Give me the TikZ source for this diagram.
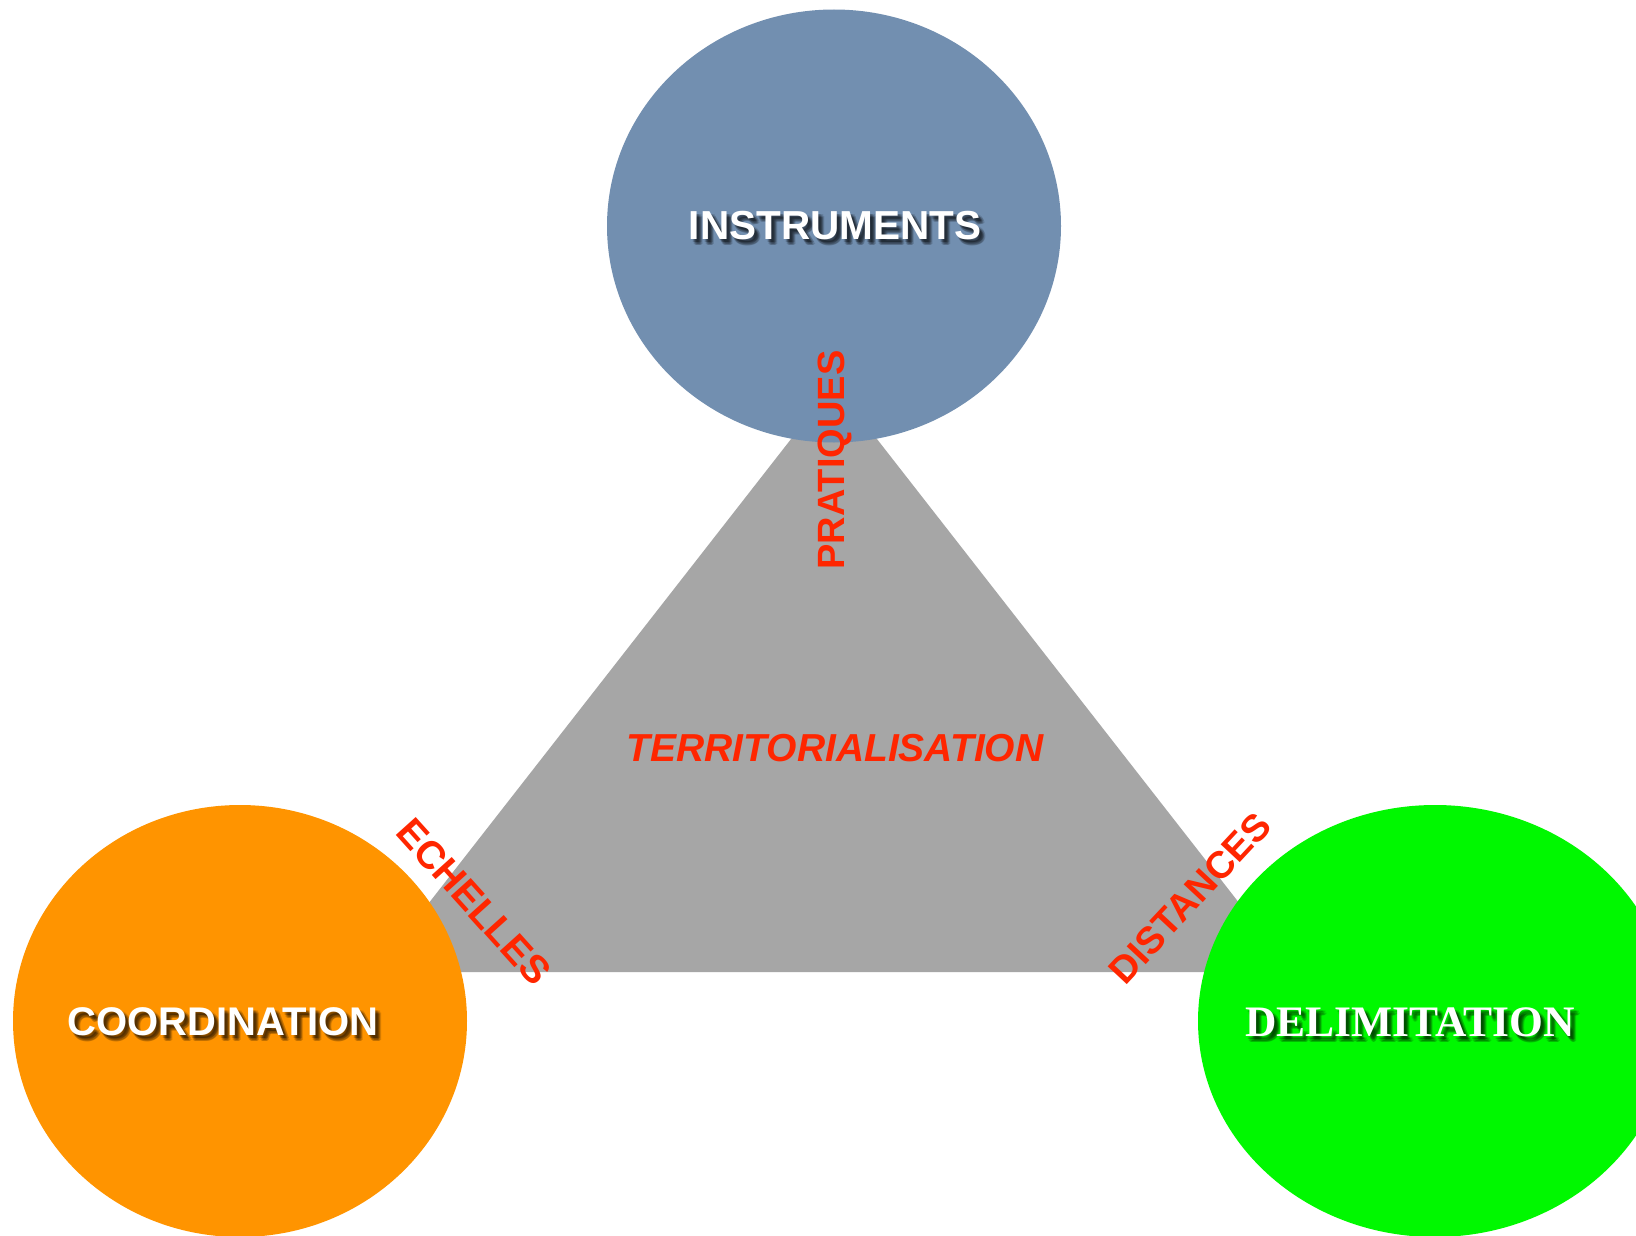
\documentclass[tikz,border=0pt]{standalone}
\usepackage{fontspec}
\setmainfont{Liberation Sans}
\newfontfamily\titleserif{Liberation Serif}
\usetikzlibrary{shapes.geometric,calc}

\definecolor{instblue}{RGB}{114,143,176}
\definecolor{coordorange}{RGB}{255,148,0}
\definecolor{delimgreen}{RGB}{0,248,0}
\definecolor{trigray}{RGB}{166,166,166}
\definecolor{labelred}{RGB}{255,38,0}

\tikzset{
  bubble/.style={ellipse, inner sep=0pt, draw=none},
  pole/.style={inner sep=0pt, text=white, font=\bfseries\fontsize{38}{40}\selectfont},
  polesh/.style={pole, text=black, opacity=0.13},
  relation/.style={inner sep=0pt, text=labelred, font=\bfseries\fontsize{38}{40}\selectfont},
}

% white title with a soft, blurred drop shadow
\newcommand\poletitle[4]{%
  \foreach \dx/\dy [count=\k] in {2/3,4/4,3/5,5/3,4/6,6/5,5/6,3/3}{
    \node[polesh, #3] (#1-sh\k) at ($(#2)+(\dx,\dy)$) {#4};
  }
  \node[pole, #3] (#1) at (#2) {#4};
}

\begin{document}
\begin{tikzpicture}[x=1pt, y=-1pt]
  \useasboundingbox (0,0) rectangle (1636,1236);
  \fill[white] (0,0) rectangle (1636,1236);

  % central triangle
  \coordinate (apex) at (834,384);
  \coordinate (left) at (375,972);
  \coordinate (right) at (1293,972);
  \fill[trigray] (apex) -- (left) -- (right) -- cycle;

  % the three poles
  \node[bubble, fill=instblue, minimum width=454pt, minimum height=433pt] (instr) at (834,226) {};
  \node[bubble, fill=coordorange, minimum width=454pt, minimum height=432pt] (coord) at (240,1021) {};
  \node[bubble, fill=delimgreen, minimum width=474pt, minimum height=432pt] (delim) at (1435,1021) {};

  % pole titles
  \poletitle{instr-t}{835,226}{font=\bfseries\fontsize{40.5}{42}\selectfont}{INSTRUMENTS}
  \poletitle{coord-t}{223,1022}{font=\bfseries\fontsize{40}{42}\selectfont}{COORDINATION}
  \poletitle{delim-t}{1410,1022}{font=\titleserif\bfseries\fontsize{43.5}{45}\selectfont}{DELIMITATION}

  % relation labels
  \node[relation, font=\bfseries\itshape\fontsize{39}{40}\selectfont] (territ) at (835,748) {TERRITORIALISATION};
  \node[relation, rotate=90] (prat) at (835,460) {PRATIQUES};
  \node[relation, rotate=-48, font=\bfseries\fontsize{39}{40}\selectfont] (ech) at (474,902) {ECHELLES};
  \node[relation, rotate=47] (dist) at (1190,898) {DISTANCES};
\end{tikzpicture}
\end{document}
